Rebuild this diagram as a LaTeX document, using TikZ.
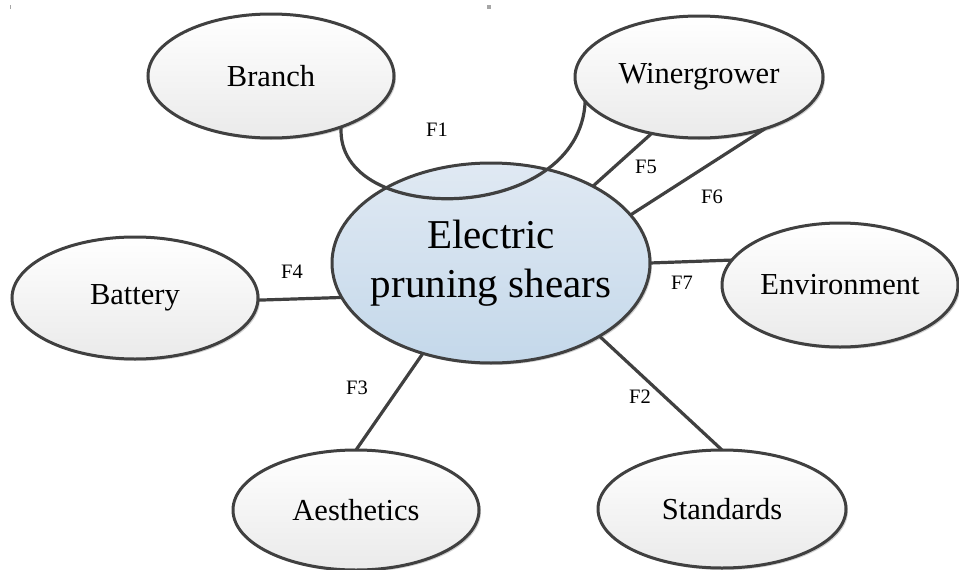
\documentclass[tikz,border=0pt]{standalone}
\usepackage{fontspec}
\setmainfont{Liberation Serif}
\usetikzlibrary{shapes.geometric,shadows}
\definecolor{edgegray}{HTML}{404040}
\definecolor{ctop}{HTML}{E0E9F3}
\definecolor{cbot}{HTML}{C4D8EA}
\definecolor{gtop}{HTML}{FFFFFF}
\definecolor{gbot}{HTML}{EAEAEA}
\tikzset{
  ent/.style={ellipse, draw=edgegray, line width=3pt, top color=gtop, bottom color=gbot,
    inner sep=0pt, outer sep=0pt, font=\fontsize{30.5}{36}\selectfont,
    drop shadow={shadow xshift=2pt, shadow yshift=-2pt, fill=black, opacity=0.18}},
  core/.style={ellipse, draw=edgegray, line width=3pt, top color=ctop, bottom color=cbot,
    inner sep=0pt, outer sep=0pt,
    drop shadow={shadow xshift=2pt, shadow yshift=-2pt, fill=black, opacity=0.18}},
  link/.style={draw=edgegray, line width=3.2pt},
  flab/.style={font=\fontsize{20.5}{24}\selectfont, inner sep=0pt}
}
\begin{document}
\begin{tikzpicture}[x=1pt,y=-1pt]
\useasboundingbox (0,0) rectangle (959,570);
\fill[gray!70] (487,5) rectangle (491,9);
\fill[gray!70] (9.5,5) rectangle (10.5,9);

\node[core, minimum width=318pt, minimum height=200pt,
  label={[font=\fontsize{41}{49}\selectfont, align=center, inner sep=0pt]center:Electric\\pruning shears}] (core) at (491,263) {};
\node[ent, minimum width=246pt, minimum height=124pt] (branch) at (271,76) {Branch};
\node[ent, minimum width=248pt, minimum height=122pt] (winer) at (699,77) {Winergrower};
\node[ent, minimum width=246pt, minimum height=122pt] (battery) at (135,298) {Battery};
\node[ent, minimum width=236pt, minimum height=124pt] (env) at (840,285) {Environment};
\node[ent, minimum width=246pt, minimum height=120pt] (aes) at (356,510) {Aesthetics};
\node[ent, minimum width=248pt, minimum height=118pt] (std) at (722,509) {Standards};

\draw[link] (battery.-1) -- (core.193);
\draw[link] (core.233) -- (aes.north);
\draw[link] (core.-34) -- (std.north);
\draw[link] (core.east) -- (env.167);
\draw[link] (core.19) -- (winer.-38);
\draw[link] (core.37) -- (winer.230);
\draw[link] (branch.-36) .. controls (335,228) and (580,225) .. (winer.192.6);

\node[flab] (f1) at (437,130) {F1};
\node[flab] (f5) at (646,167) {F5};
\node[flab] (f6) at (712,197) {F6};
\node[flab] (f7) at (682,283) {F7};
\node[flab] (f4) at (292,272) {F4};
\node[flab] (f3) at (357,388) {F3};
\node[flab] (f2) at (640,397) {F2};
\end{tikzpicture}
\end{document}
